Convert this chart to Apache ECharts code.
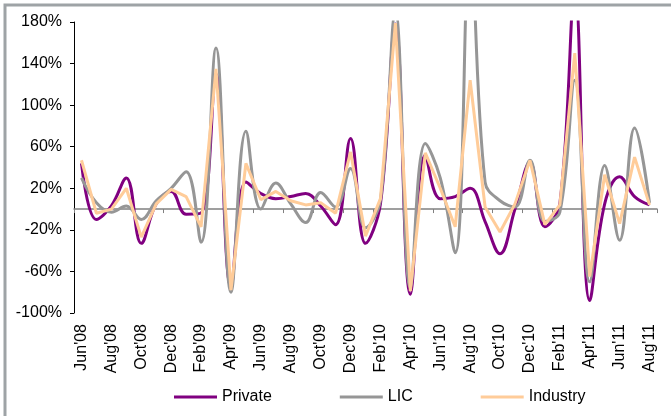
<!DOCTYPE html>
<html>
<head>
<meta charset="utf-8">
<script src="https://cdn.jsdelivr.net/npm/echarts@6/dist/echarts.min.js"></script>
<style>
html,body{margin:0;padding:0;background:#fff;}
#chart{width:671px;height:416px;}
</style>
</head>
<body>
<div id="chart"></div>
<script>
var months = ["Jun'08","Jul'08","Aug'08","Sep'08","Oct'08","Nov'08","Dec'08","Jan'09","Feb'09","Mar'09","Apr'09","May'09","Jun'09","Jul'09","Aug'09","Sep'09","Oct'09","Nov'09","Dec'09","Jan'10","Feb'10","Mar'10","Apr'10","May'10","Jun'10","Jul'10","Aug'10","Sep'10","Oct'10","Nov'10","Dec'10","Jan'11","Feb'11","Mar'11","Apr'11","May'11","Jun'11","Jul'11","Aug'11"];
var privateVals = [44,-10,3,30,-33,5,17,-5,-4,130,-75,26,15,10,12,15,3,-15,68,-33,5,178,-82,52,10,12,20,-12,-43,0,45,-17,5,210,-88,5,31,12,4];
var licVals = [30,6,-3,3,-10,8,20,36,-32,155,-80,75,0,25,5,-13,16,2,39,-18,9,190,-76,63,30,-42,260,26,8,2,47,-12,-3,124,-70,42,-30,78,6];
var industryVals = [47,-4,0,20,-27,5,19,12,-17,135,-78,44,9,17,8,4,6,-4,55,-26,10,179,-79,54,20,-17,124,2,-22,5,47,-15,4,150,-65,33,-14,50,4];
var yTicks = {min:-100, max:180, interval:40};

var FONT = "'Liberation Sans', Arial, sans-serif";
var chart = echarts.init(document.getElementById('chart'), null, {renderer:'canvas'});
chart.setOption({
  animation:false,
  backgroundColor:'#ffffff',
  graphic:[{type:'rect', shape:{x:5,y:5,width:720,height:460}, style:{fill:'none', stroke:'#9ea3a6', lineWidth:3}, silent:true, z:-10}],
  grid:{left:74, right:14, top:22, bottom:103, containLabel:false},
  legend:{
    data:['Private','LIC','Industry'],
    left:169, top:384, itemGap:68, itemWidth:43, itemHeight:3, icon:'rect',
    textStyle:{fontFamily:FONT, fontSize:16, color:'#000'}
  },
  xAxis:[
    {type:'category', data:months, position:'bottom', boundaryGap:true,
     axisLine:{show:false, onZero:false}, axisTick:{show:false},
     axisLabel:{interval:1, rotate:90, margin:11, fontFamily:FONT, fontSize:16, color:'#000'}},
    {type:'category', data:months, position:'top', boundaryGap:true,
     axisLine:{show:true, onZero:true, lineStyle:{color:'#808080', width:1.5}},
     axisTick:{show:true, inside:true, interval:1, length:4, lineStyle:{color:'#808080'}},
     axisLabel:{show:false}}
  ],
  yAxis:{type:'value', min:yTicks.min, max:yTicks.max, interval:yTicks.interval,
    axisLine:{show:true, lineStyle:{color:'#000', width:1}},
    axisTick:{show:true, length:4, lineStyle:{color:'#000'}},
    splitLine:{show:false},
    axisLabel:{formatter:'{value}%', margin:12, fontFamily:FONT, fontSize:16, color:'#000'}},
  series:[
    {name:'Private', type:'line', data:privateVals, smooth:0.4, showSymbol:false, symbol:'none',
     lineStyle:{color:'#800080', width:3}, itemStyle:{color:'#800080'}, clip:true},
    {name:'LIC', type:'line', data:licVals, smooth:0.4, showSymbol:false, symbol:'none',
     lineStyle:{color:'#969696', width:3}, itemStyle:{color:'#969696'}, clip:true},
    {name:'Industry', type:'line', data:industryVals, smooth:false, showSymbol:false, symbol:'none',
     lineStyle:{color:'#FFCC99', width:3}, itemStyle:{color:'#FFCC99'}, clip:true}
  ]
});
</script>
</body>
</html>
